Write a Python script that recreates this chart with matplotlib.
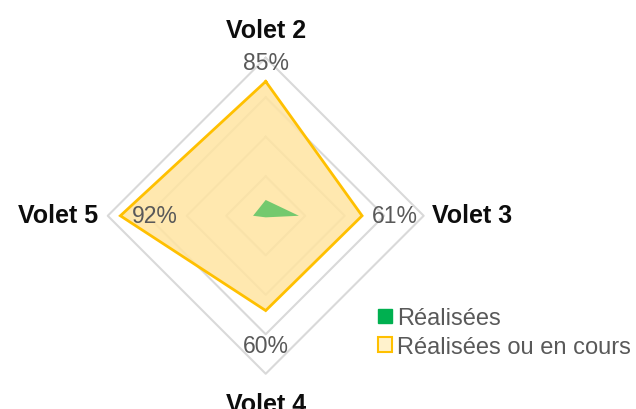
import matplotlib
matplotlib.use('Agg')
import matplotlib.pyplot as plt
from matplotlib.patches import Patch
import numpy as np

# Data
categories = ['Volet 2', 'Volet 3', 'Volet 4', 'Volet 5']
realisees = [0.10, 0.21, 0.01, 0.08]
en_cours = [0.85, 0.61, 0.60, 0.92]
value_labels = ['85%', '61%', '60%', '92%']
ring_levels = [0.25, 0.5, 0.75, 1.0]

plt.rcParams['font.family'] = ['Liberation Sans', 'DejaVu Sans']

fig = plt.figure(figsize=(6.36, 4.10), dpi=100)
ax = fig.add_axes([0, 0, 1, 1])
ax.set_xlim(-1.682, 2.344)
ax.set_ylim(-1.223, 1.372)
ax.axis('off')

# angles clockwise from top
angles = np.array([0, 90, 180, 270]) * np.pi / 180


def to_xy(vals):
    v = np.asarray(vals, dtype=float)
    x = v * np.sin(angles)
    y = v * np.cos(angles)
    return np.append(x, x[0]), np.append(y, y[0])


# grid rings
for lvl in ring_levels:
    gx, gy = to_xy([lvl] * 4)
    ax.plot(gx, gy, color='#D9D9D9', lw=1.5, zorder=1)

# series
ex, ey = to_xy(en_cours)
ax.fill(ex, ey, color='#FFE4A1', alpha=0.85, lw=0, zorder=2)
ax.plot(ex, ey, color='#FFC000', lw=2.0, zorder=4, solid_joinstyle='miter')

rx, ry = to_xy(realisees)
ax.fill(rx, ry, color='#74C96E', lw=0, zorder=3)

# value labels
lab_style = dict(fontsize=16.5, color='#595959', va='baseline', zorder=5)
ax.text(0, 0.928, value_labels[0], ha='center', **lab_style)
ax.text(0.673, -0.04, value_labels[1], ha='left', **lab_style)
ax.text(0, -0.863, value_labels[2], ha='center', **lab_style)
ax.text(-0.846, -0.04, value_labels[3], ha='left', **lab_style)

# category labels
cat_style = dict(fontsize=18, fontweight='bold', color='#0d0d0d', va='baseline')
ax.text(0, 1.131, categories[0], ha='center', **cat_style)
ax.text(1.053, -0.037, categories[1], ha='left', **cat_style)
ax.text(0, -1.238, categories[2], ha='center', **cat_style)
ax.text(-1.061, -0.037, categories[3], ha='right', **cat_style)

# legend
handles = [Patch(facecolor='#00B050', edgecolor='#00B050', label='Réalisées'),
           Patch(facecolor='#FFF2CC', edgecolor='#FFC000', lw=1.5,
                 label='Réalisées ou en cours')]
leg = fig.legend(handles=handles, loc='upper left', bbox_to_anchor=(0.594, 0.248),
                 frameon=False, fontsize=17, handlelength=0.6, handleheight=0.6,
                 handletextpad=0.2, labelspacing=0.28, borderaxespad=0, borderpad=0)
for t in leg.get_texts():
    t.set_color('#595959')

plt.savefig('out.png', dpi=100)
